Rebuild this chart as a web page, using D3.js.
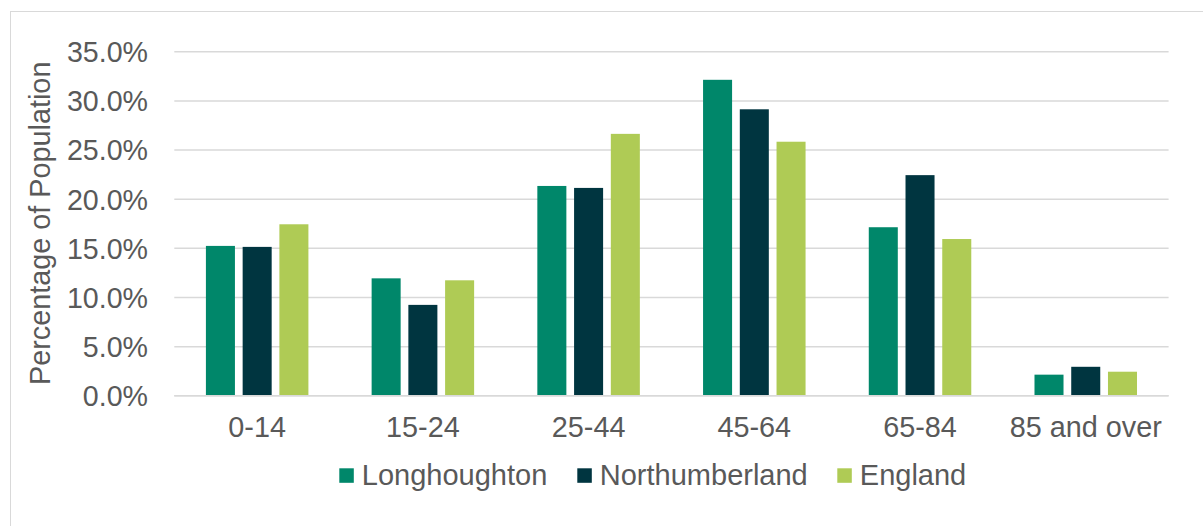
<!DOCTYPE html>
<html>
<head>
<meta charset="utf-8">
<script src="https://cdn.jsdelivr.net/npm/d3@7"></script>
<style>
  html, body { margin: 0; padding: 0; background: #fff; }
  svg { display: block; }
  text { font-family: "Liberation Sans", Arial, sans-serif; fill: #595959; }
</style>
</head>
<body>
<svg id="chart" width="1203" height="526"></svg>
<script>
const categories = ["0-14", "15-24", "25-44", "45-64", "65-84", "85 and over"];
const seriesNames = ["Longhoughton", "Northumberland", "England"];
const longhoughton = [15.2, 11.9, 21.3, 32.1, 17.1, 2.1];
const northumberland = [15.1, 9.2, 21.1, 29.1, 22.4, 2.9];
const england = [17.4, 11.7, 26.6, 25.8, 15.9, 2.4];
const yTicks = [0, 5, 10, 15, 20, 25, 30, 35];
const colors = ["#00876A", "#003540", "#AFCB55"];

const seriesValues = [longhoughton, northumberland, england];
const data = categories.map((c, i) => ({
  cat: c,
  vals: seriesNames.map((s, j) => ({ series: s, value: seriesValues[j][i], idx: j }))
}));

const svg = d3.select("#chart");
const W = 1203, H = 526;

// chart border
svg.append("rect")
  .attr("x", 10.5).attr("y", 11.5)
  .attr("width", W + 20).attr("height", H + 20)
  .attr("fill", "none").attr("stroke", "#d9d9d9").attr("stroke-width", 1);

const plot = { left: 174.3, right: 1168.6, top: 51.3, bottom: 395.3 };

const x0 = d3.scaleBand().domain(categories).range([plot.left, plot.right]).padding(0);
const groupW = 102.5;
const x1 = d3.scaleBand().domain(seriesNames)
  .range([(x0.bandwidth() - groupW) / 2, (x0.bandwidth() + groupW) / 2])
  .paddingInner(0.21).paddingOuter(0);
const y = d3.scaleLinear().domain([0, 35]).range([plot.bottom, plot.top]);

// gridlines
const grid = svg.append("g")
  .attr("transform", `translate(${plot.left},0)`)
  .call(d3.axisLeft(y).tickValues(yTicks).tickSize(-(plot.right - plot.left)).tickFormat(""));
grid.select(".domain").remove();
grid.selectAll("line").attr("stroke", "#d9d9d9").attr("stroke-width", 1.5);

// y tick labels
const yAxis = svg.append("g")
  .attr("transform", `translate(148,0)`)
  .call(d3.axisLeft(y).tickValues(yTicks).tickSize(0).tickPadding(0).tickFormat(d => d.toFixed(1) + "%"));
yAxis.select(".domain").remove();
yAxis.selectAll("text")
  .attr("font-size", "28.6px")
  .attr("fill", "#595959")
  .attr("font-family", '"Liberation Sans", Arial, sans-serif')
  .attr("dy", "0.36em");

// bars
const groups = svg.append("g").selectAll("g")
  .data(data).join("g")
  .attr("transform", d => `translate(${x0(d.cat)},0)`);
groups.selectAll("rect")
  .data(d => d.vals).join("rect")
  .attr("x", d => x1(d.series))
  .attr("width", x1.bandwidth())
  .attr("y", d => y(d.value))
  .attr("height", d => y(0) - y(d.value))
  .attr("fill", d => colors[d.idx]);

// baseline
svg.append("line")
  .attr("x1", plot.left).attr("x2", plot.right)
  .attr("y1", y(0) + 0.5).attr("y2", y(0) + 0.5)
  .attr("stroke", "#d9d9d9").attr("stroke-width", 1.5);

// x labels
const xAxis = svg.append("g")
  .attr("transform", `translate(0,${plot.bottom})`)
  .call(d3.axisBottom(x0).tickSize(0).tickPadding(0));
xAxis.select(".domain").remove();
xAxis.selectAll("text")
  .attr("font-size", "28.8px")
  .attr("fill", "#595959")
  .attr("font-family", '"Liberation Sans", Arial, sans-serif')
  .attr("dy", null)
  .attr("y", 42);

// y axis title
svg.append("text")
  .attr("transform", `translate(50,${(plot.top + plot.bottom) / 2}) rotate(-90)`)
  .attr("text-anchor", "middle")
  .attr("font-size", "28.8px")
  .text("Percentage of Population");

// legend
const legendX = [339.3, 577.3, 837.3];
const legend = svg.append("g").selectAll("g")
  .data(seriesNames).join("g")
  .attr("transform", (d, i) => `translate(${legendX[i]},0)`);
legend.append("rect")
  .attr("x", 0).attr("y", 468.3).attr("width", 14.5).attr("height", 14.5)
  .attr("fill", (d, i) => colors[i]);
legend.append("text")
  .attr("x", 22.5).attr("y", 485)
  .attr("font-size", "29px")
  .text(d => d);
</script>
</body>
</html>
